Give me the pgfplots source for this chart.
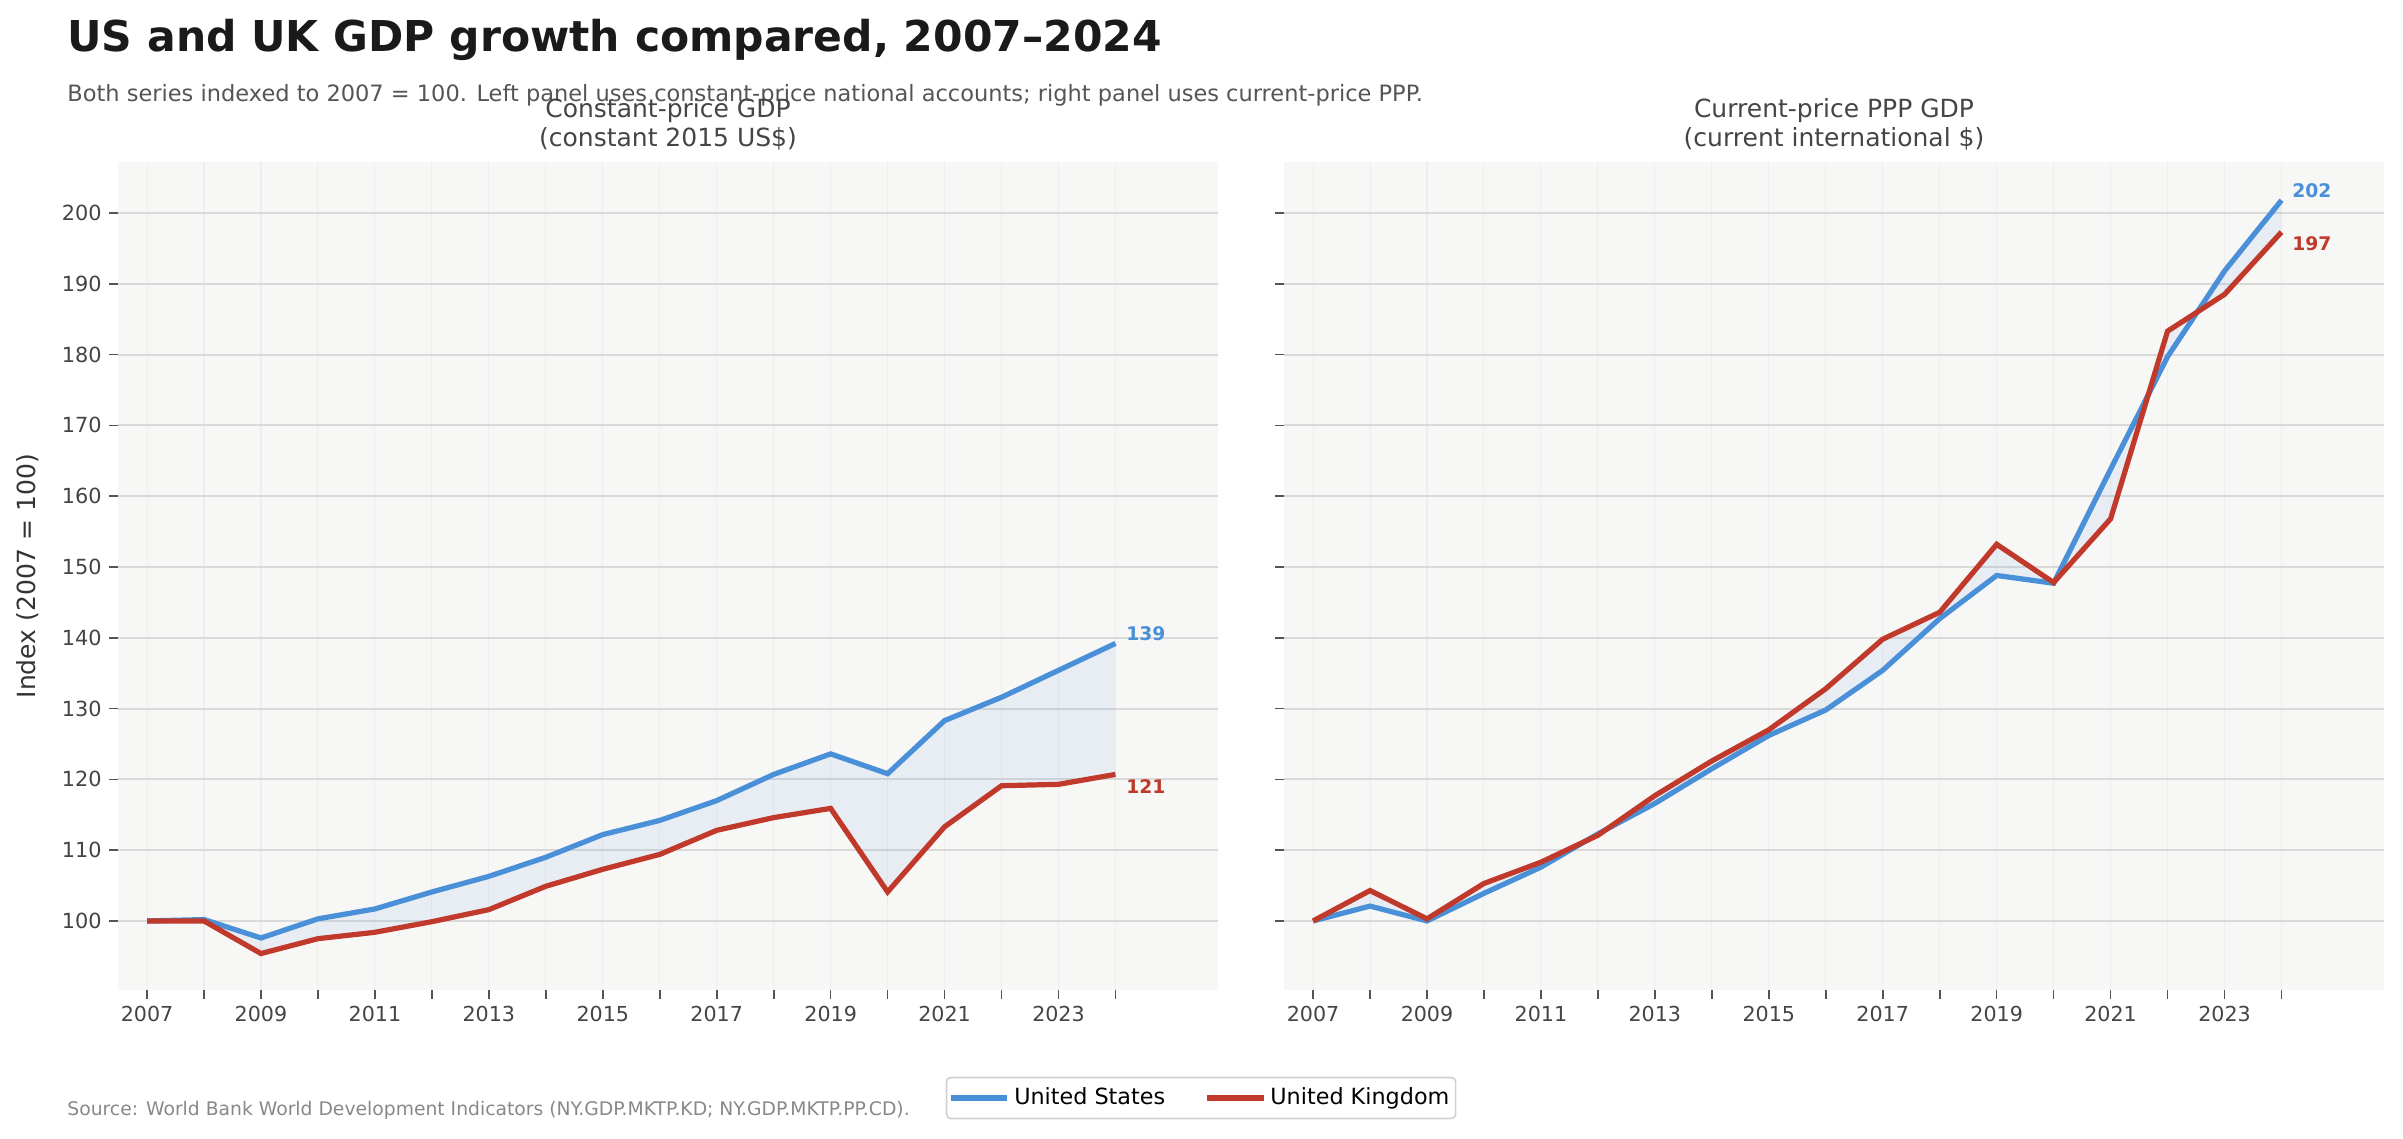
\documentclass[border=0pt]{standalone}
\usepackage{fontspec}
\setmainfont{DejaVu Sans}
\usepackage{pgfplots}
\pgfplotsset{compat=1.18}
\usepgfplotslibrary{fillbetween}
\definecolor{usblue}{HTML}{4A90D9}
\definecolor{ukred}{HTML}{C0392B}
\definecolor{bgc}{HTML}{F7F7F5}
\definecolor{hgrid}{HTML}{D9D9D9}
\definecolor{vgrid}{HTML}{EDEDED}
\definecolor{tickc}{HTML}{555555}
\definecolor{ticklab}{HTML}{444444}
\definecolor{ttl}{HTML}{1A1A1A}
\definecolor{subt}{HTML}{555555}
\definecolor{srcc}{HTML}{888888}

\pgfplotstableread{
year us uk
2007 100.0 100.0
2008 100.2 100.0
2009 97.6 95.4
2010 100.3 97.5
2011 101.7 98.4
2012 104.1 99.9
2013 106.3 101.6
2014 109.0 104.9
2015 112.2 107.3
2016 114.2 109.4
2017 117.0 112.8
2018 120.7 114.6
2019 123.6 115.9
2020 120.8 104.1
2021 128.3 113.3
2022 131.6 119.1
2023 135.4 119.3
2024 139.2 120.7
}\constdata

\pgfplotstableread{
year us uk
2007 100.0 100.0
2008 102.1 104.3
2009 100.0 100.3
2010 103.9 105.3
2011 107.6 108.3
2012 112.3 112.1
2013 116.6 117.7
2014 121.5 122.6
2015 126.2 127.0
2016 129.8 132.8
2017 135.4 139.8
2018 142.7 143.6
2019 148.8 153.2
2020 147.7 147.8
2021 163.8 156.8
2022 179.7 183.3
2023 191.8 188.5
2024 201.8 197.3
}\pppdata

\pgfplotsset{
  panel/.style={
    set layers,
    scale only axis,
    width=528pt, height=397.44pt,
    anchor=south west,
    xmin=2006.49, xmax=2025.8,
    ymin=90.25, ymax=207.2,
    axis background/.style={fill=bgc},
    axis line style={draw=none},
    xtick={2007,2008,...,2024},
    xticklabels={2007,,2009,,2011,,2013,,2015,,2017,,2019,,2021,,2023,},
    ytick={100,110,...,200},
    xmajorgrids, ymajorgrids,
    x grid style={color=vgrid, line width=0.5pt},
    y grid style={color=hgrid, line width=0.9pt},
    tick align=outside,
    xtick pos=bottom, ytick pos=left,
    major tick length=4.3pt,
    tick style={color=tickc, line width=0.8pt},
    /pgf/number format/assume math mode=true,
    xticklabel style={font=\fontsize{9.9}{11}\selectfont, text=ticklab},
    yticklabel style={font=\fontsize{10}{12}\selectfont, text=ticklab},
    clip=false,
  },
}

\begin{document}
\begin{tikzpicture}
% Left panel
\begin{axis}[panel, at={(56.64pt,71.04pt)},
  ylabel={Index (2007 = 100)},
  ylabel style={font=\fontsize{12}{14}\selectfont, text=black!80,
    at={(axis description cs:-0.0823,0.5)}, anchor=center},
  legend style={at={(0.9846,-0.1304)}, anchor=center, draw=black!18, line width=0.8pt,
    rounded corners=2pt, fill=white, font=\fontsize{10.7}{12}\selectfont,
    legend columns=2, inner xsep=1pt, inner ysep=3pt,
    /tikz/every even column/.append style={column sep=17pt},
    /tikz/every odd column/.append style={column sep=0pt}},
  legend image code/.code={\draw[#1, line width=2.5pt] (0pt,0pt) -- (27pt,0pt);},
]
\addplot[usblue, line width=2.5pt, name path=us] table[x=year, y=us] {\constdata};
\addlegendentry{United States}
\addplot[ukred, line width=2.5pt, name path=uk] table[x=year, y=uk] {\constdata};
\addlegendentry{United Kingdom}
\addplot[fill=usblue, fill opacity=0.09, draw=none] fill between[of=us and uk];
\node[anchor=west, inner sep=0pt, text=usblue, font=\bfseries\fontsize{9}{11}\selectfont]
  at (axis cs:2024,139.2) [xshift=5pt, yshift=4.8pt] {139};
\node[anchor=west, inner sep=0pt, text=ukred, font=\bfseries\fontsize{9}{11}\selectfont]
  at (axis cs:2024,120.7) [xshift=5pt, yshift=-5.8pt] {121};
\end{axis}

% Right panel
\begin{axis}[panel, at={(616.32pt,71.04pt)}, yticklabels={}]
\addplot[usblue, line width=2.5pt, name path=us] table[x=year, y=us] {\pppdata};
\addplot[ukred, line width=2.5pt, name path=uk] table[x=year, y=uk] {\pppdata};
\addplot[fill=usblue, fill opacity=0.09, draw=none] fill between[of=us and uk];
\node[anchor=west, inner sep=0pt, text=usblue, font=\bfseries\fontsize{9}{11}\selectfont]
  at (axis cs:2024,201.8) [xshift=5pt, yshift=4.8pt] {202};
\node[anchor=west, inner sep=0pt, text=ukred, font=\bfseries\fontsize{9}{11}\selectfont]
  at (axis cs:2024,197.3) [xshift=5pt, yshift=-5.8pt] {197};
\end{axis}

% Titles
\node[anchor=base west, inner sep=0pt, text=ttl, font=\bfseries\fontsize{20.4}{24}\selectfont]
  at (32.16pt,521.3pt) {US and UK GDP growth compared, 2007–2024};
\node[anchor=base west, inner sep=0pt, text=subt, font=\fontsize{10.8}{12}\selectfont]
  at (32.16pt,497.5pt) {Both series indexed to 2007 = 100. Left panel uses constant-price national accounts; right panel uses current-price PPP.};
\node[anchor=base, inner sep=0pt, text=black!73, font=\fontsize{12}{14}\selectfont]
  at (320.64pt,489.6pt) {Constant-price GDP};
\node[anchor=base, inner sep=0pt, text=black!73, font=\fontsize{12}{14}\selectfont]
  at (320.64pt,476.0pt) {(constant 2015 US\$)};
\node[anchor=base, inner sep=0pt, text=black!73, font=\fontsize{12}{14}\selectfont]
  at (880.32pt,489.6pt) {Current-price PPP GDP};
\node[anchor=base, inner sep=0pt, text=black!73, font=\fontsize{12}{14}\selectfont]
  at (880.32pt,476.0pt) {(current international \$)};
\node[anchor=base west, inner sep=0pt, text=srcc, font=\fontsize{9}{10}\selectfont]
  at (32.16pt,10.6pt) {Source: World Bank World Development Indicators (NY.GDP.MKTP.KD; NY.GDP.MKTP.PP.CD).};
\pgfresetboundingbox
\useasboundingbox (0,0) rectangle (1153.44pt,546.24pt);
\end{tikzpicture}
\end{document}
